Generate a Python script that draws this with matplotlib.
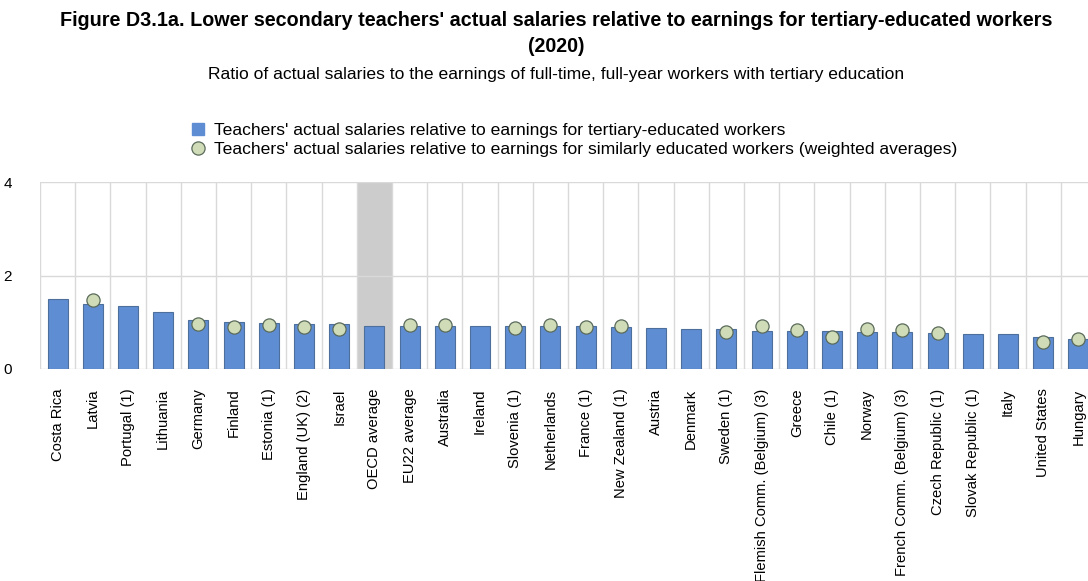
import matplotlib
matplotlib.use("Agg")
import matplotlib.pyplot as plt
from matplotlib.lines import Line2D
import numpy as np

plt.rcParams['font.family'] = ['Liberation Sans', 'DejaVu Sans']

countries = ["Costa Rica", "Latvia", "Portugal (1)", "Lithuania", "Germany", "Finland",
             "Estonia (1)", "England (UK) (2)", "Israel", "OECD average", "EU22 average",
             "Australia", "Ireland", "Slovenia (1)", "Netherlands", "France (1)",
             "New Zealand (1)", "Austria", "Denmark", "Sweden (1)",
             "Flemish Comm. (Belgium) (3)", "Greece", "Chile (1)", "Norway",
             "French Comm. (Belgium) (3)", "Czech Republic (1)", "Slovak Republic (1)",
             "Italy", "United States", "Hungary"]
tertiary = [1.50, 1.38, 1.35, 1.22, 1.04, 1.01, 0.98, 0.96, 0.96, 0.93, 0.91,
            0.91, 0.91, 0.91, 0.91, 0.91, 0.90, 0.88, 0.85, 0.85,
            0.82, 0.82, 0.82, 0.79, 0.79, 0.77, 0.74, 0.74, 0.69, 0.65]
similar = [None, 1.48, None, None, 0.97, 0.89, 0.95, 0.90, 0.85, None, 0.94,
           0.94, None, 0.87, 0.95, 0.89, 0.91, None, None, 0.79,
           0.93, 0.83, 0.69, 0.86, 0.84, 0.77, None, None, 0.58, 0.65]
highlight = "OECD average"
yticks = [0, 2, 4]

W, H = 1088, 581
fig = plt.figure(figsize=(W / 100, H / 100), dpi=100)
left_px, top_px, bot_px = 40, 182, 369
n = len(countries)
cat_w = 35.2
ax = fig.add_axes([left_px / W, (H - bot_px) / H, n * cat_w / W, (bot_px - top_px) / H])

x = np.arange(n)
hi = countries.index(highlight)
ax.axvspan(hi - 0.5, hi + 0.5, color="#cccccc", zorder=0.5, lw=0)

ax.bar(x, tertiary, width=0.57, color="#5f8dd3", edgecolor="#4d6f9c", linewidth=0.8, zorder=2)
sx = [i for i, v in enumerate(similar) if v is not None]
sy = [similar[i] for i in sx]
ax.plot(sx, sy, 'o', markersize=9.5, markerfacecolor="#cfdcb7", markeredgecolor="#5a6a5a",
        markeredgewidth=0.9, linestyle='none', zorder=3)

ax.set_xlim(-0.5, n - 0.5)
ax.set_ylim(0, 4)
ax.set_yticks(yticks)
ax.set_yticklabels([str(t) for t in yticks], fontsize=11)
ax.tick_params(axis='y', length=0, pad=20)
ax.set_xticks(x)
ax.set_xticklabels(countries, rotation=90, fontsize=10.6)
ax.tick_params(axis='x', length=0, pad=14)

for yv in yticks:
    ax.axhline(yv, color="#d9d9d9", lw=1, zorder=1)
for b in np.arange(-0.5, n + 0.5, 1):
    ax.axvline(b, color="#d9d9d9", lw=1, zorder=1)
for s in ax.spines.values():
    s.set_visible(False)

cx = 556 / W
fig.text(cx, 1 - 21 / H, "Figure D3.1a. Lower secondary teachers' actual salaries relative to earnings for tertiary-educated workers",
         ha='center', va='center', fontsize=14.2, fontweight='bold')
fig.text(cx, 1 - 47 / H, "(2020)", ha='center', va='center', fontsize=14.2, fontweight='bold')
fig.text(cx, 1 - 75 / H, "Ratio of actual salaries to the earnings of full-time, full-year workers with tertiary education",
         ha='center', va='center', fontsize=12.6)

handles = [
    Line2D([], [], marker='s', linestyle='none', markersize=9, markerfacecolor="#5f8dd3",
           markeredgecolor="#5f8dd3"),
    Line2D([], [], marker='o', linestyle='none', markersize=9.5, markerfacecolor="#cfdcb7",
           markeredgecolor="#5a6a5a", markeredgewidth=0.9),
]
labels = ["Teachers' actual salaries relative to earnings for tertiary-educated workers",
          "Teachers' actual salaries relative to earnings for similarly educated workers (weighted averages)"]
fig.legend(handles, labels, loc='upper left', bbox_to_anchor=(189 / W, 1 - 123 / H),
           frameon=False, fontsize=12.6, handletextpad=0.4, labelspacing=0.22,
           handlelength=1.0, borderaxespad=0, borderpad=0)

fig.savefig("out.png", dpi=100)
